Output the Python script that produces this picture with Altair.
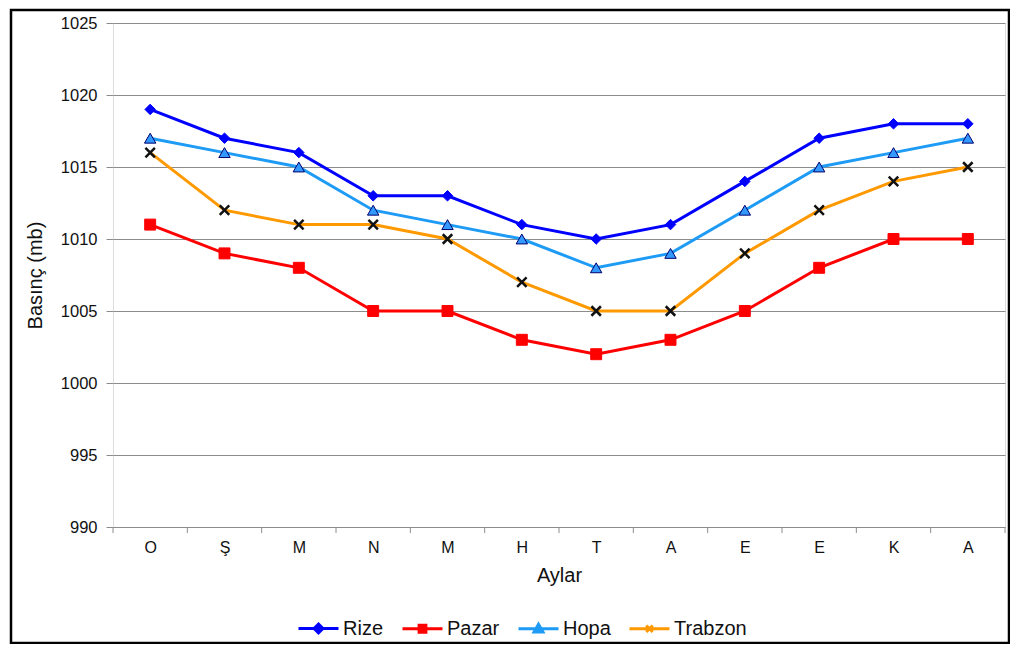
import altair as alt
import pandas as pd

months = ["O", "Ş", "M", "N", "M", "H", "T", "A", "E", "E", "K", "A"]
series_names = ["Rize", "Pazar", "Hopa", "Trabzon"]
rize = [1019, 1017, 1016, 1013, 1013, 1011, 1010, 1011, 1014, 1017, 1018, 1018]
pazar = [1011, 1009, 1008, 1005, 1005, 1003, 1002, 1003, 1005, 1008, 1010, 1010]
hopa = [1017, 1016, 1015, 1012, 1011, 1010, 1008, 1009, 1012, 1015, 1016, 1017]
trabzon = [1016, 1012, 1011, 1011, 1010, 1007, 1005, 1005, 1009, 1012, 1014, 1015]
y_ticks = [990, 995, 1000, 1005, 1010, 1015, 1020, 1025]

line_colors = ["#0000FF", "#FF0000", "#1E9BF5", "#FF9900"]
fill_colors = ["#0000FF", "#FF0000", "#3399FF", "#000000"]

rows = []
for name, vals in zip(series_names, [rize, pazar, hopa, trabzon]):
    for i, v in enumerate(vals):
        rows.append({"i": i, "value": v, "series": name})
df = pd.DataFrame(rows)
bounds = pd.DataFrame({"b": [k - 0.5 for k in range(len(months) + 1)]})

W, H = 892, 504
FONT = "Liberation Sans"
TXT = "#111111"

label_expr = "[" + ",".join("'%s'" % m for m in months) + "][datum.value]"
xscale = alt.Scale(domain=[-0.5, len(months) - 0.5], nice=False, zero=False)
yscale = alt.Scale(domain=[990, 1025], nice=False, zero=False)

xenc = alt.X("i:Q", scale=xscale, title="Aylar",
             axis=alt.Axis(values=list(range(len(months))), labelExpr=label_expr,
                           grid=False, ticks=False, domain=False, labelPadding=12,
                           labelFontSize=16, titleFontSize=20, titlePadding=10,
                           titleFontWeight="normal", labelFont=FONT, titleFont=FONT,
                           labelColor=TXT, titleColor=TXT, labelFlush=False))
yenc = alt.Y("value:Q", scale=yscale, title="Basınç (mb)",
             axis=alt.Axis(values=y_ticks, format="d", grid=True, gridColor="#8c8c8c",
                           tickColor="#8c8c8c", tickSize=7, domain=False,
                           labelPadding=9, labelFontSize=16.5, titleFontSize=20,
                           titlePadding=15, titleFontWeight="normal",
                           labelFont=FONT, titleFont=FONT, labelColor=TXT,
                           titleColor=TXT, labelFlush=False))

legend_paths = [
    "M-1,0L1,0M0,-0.22L0.22,0L0,0.22L-0.22,0Z",
    "M-1,0L1,0M-0.17,-0.17L0.17,-0.17L0.17,0.17L-0.17,0.17Z",
    "M-1,0L1,0M0,-0.22L0.22,0.16L-0.22,0.16Z",
    "M-1,0L1,0M-0.16,-0.16L0.16,0.16M-0.16,0.16L0.16,-0.16",
]

def leg():
    return alt.Legend(title=None, orient="none", direction="horizontal",
                      legendX=184, legendY=584, symbolSize=1600,
                      symbolStrokeWidth=3, labelFontSize=20, labelOffset=3,
                      columnPadding=12, labelColor=TXT, labelFont=FONT,
                      symbolOpacity=1)

stroke_scale = alt.Scale(domain=series_names, range=line_colors)
fill_scale = alt.Scale(domain=series_names, range=fill_colors)
shape_scale = alt.Scale(domain=series_names, range=legend_paths)

lines = alt.Chart(df).mark_line(strokeWidth=3).encode(
    x=xenc, y=yenc,
    stroke=alt.Stroke("series:N", scale=stroke_scale, legend=leg()),
    detail="series:N",
)

ticks = alt.Chart(bounds).mark_rule(color="#8c8c8c", strokeWidth=1).encode(
    x=alt.X("b:Q", scale=xscale),
    y=alt.value(H),
    y2=alt.value(H + 6),
)

marker_specs = {
    "Rize": dict(shape="diamond", size=110, fill="#0000FF", stroke="#0000FF", strokeWidth=1, filled=True),
    "Pazar": dict(shape="square", size=120, fill="#FF0000", stroke="#FF0000", strokeWidth=1, filled=True),
    "Hopa": dict(shape="triangle-up", size=130, fill="#3399FF", stroke="#00006E", strokeWidth=1, filled=True),
    "Trabzon": dict(shape="M-1,-1L1,1M-1,1L1,-1", size=90, stroke="#111111", strokeWidth=2.5, filled=False),
}
point_layers = []
for name in series_names:
    spec = marker_specs[name]
    point_layers.append(
        alt.Chart(df).transform_filter(alt.datum.series == name)
        .mark_point(opacity=1, **spec)
        .encode(x=alt.X("i:Q", scale=xscale), y=alt.Y("value:Q", scale=yscale))
    )

legend_layer = alt.Chart(df).transform_filter("false").mark_point(filled=True).encode(
    x=alt.X("i:Q", scale=xscale),
    y=alt.Y("value:Q", scale=yscale),
    stroke=alt.Stroke("series:N", scale=stroke_scale, legend=leg()),
    fill=alt.Fill("series:N", scale=fill_scale, legend=leg()),
    shape=alt.Shape("series:N", scale=shape_scale, legend=leg()),
)

frame = alt.Chart(pd.DataFrame({"k": [0]})).mark_rect(
    fill="transparent", stroke="#000000", strokeWidth=2.5
).encode(
    x=alt.value(-102), x2=alt.value(W + 4),
    y=alt.value(-13), y2=alt.value(H + 116),
)

chart = alt.layer(lines, ticks, *point_layers, legend_layer, frame).properties(
    width=W, height=H,
    autosize=alt.AutoSizeParams(type="none"),
    padding={"left": 105, "top": 15, "right": 5, "bottom": 117},
).configure_view(
    stroke="#000000", strokeWidth=2
).configure(background="white")

chart.save("out.html", embed_options={"renderer": "svg", "actions": False})
